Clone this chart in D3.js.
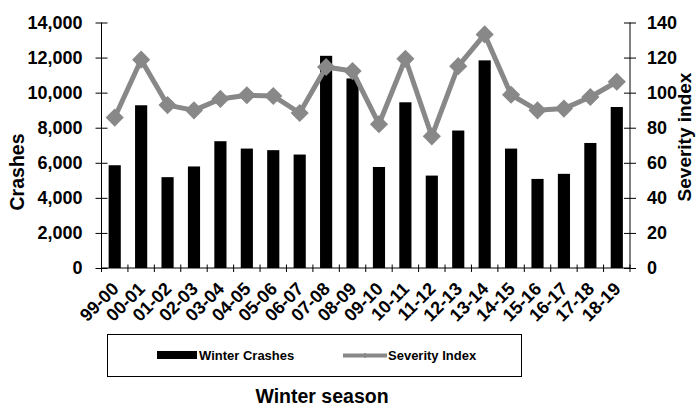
<!DOCTYPE html>
<html>
<head>
<meta charset="utf-8">
<script src="https://cdn.jsdelivr.net/npm/d3@7"></script>
<style>
  html, body { margin: 0; padding: 0; background: #fff; }
  svg { display: block; font-family: "Liberation Sans", Arial, sans-serif; font-weight: bold; }
</style>
</head>
<body>
<svg id="chart" width="696" height="409"></svg>
<script>
const seasons = ["99-00","00-01","01-02","02-03","03-04","04-05","05-06","06-07","07-08","08-09",
                 "09-10","10-11","11-12","12-13","13-14","14-15","15-16","16-17","17-18","18-19"];
const crashes = [5860, 9280, 5180, 5790, 7230, 6810, 6720, 6470, 12100, 10810,
                 5760, 9450, 5270, 7840, 11840, 6810, 5080, 5370, 7130, 9180];
const severity = [85.8, 118.8, 92.9, 89.9, 96.4, 98.5, 98.1, 88.4, 114.6, 112.3,
                  82.0, 119.3, 75.1, 115.1, 133.2, 98.8, 89.9, 90.9, 97.5, 106.2];
const leftTicks = [0, 2000, 4000, 6000, 8000, 10000, 12000, 14000];
const rightTicks = [0, 20, 40, 60, 80, 100, 120, 140];

const svg = d3.select("#chart");
const L = 101.5, R = 630, T = 22.5, B = 268;
const gray = "#888888";

const x = d3.scaleBand().domain(seasons).range([L, R]).paddingInner(0).paddingOuter(0);
const yL = d3.scaleLinear().domain([0, 14000]).range([B, T]);
const yR = d3.scaleLinear().domain([0, 140]).range([B, T]);

// bars
const bw = x.bandwidth() * 0.46;
svg.append("g").selectAll("rect").data(seasons).join("rect")
  .attr("x", (d) => x(d) + x.bandwidth() / 2 - bw / 2)
  .attr("y", (d, i) => yL(crashes[i]))
  .attr("width", bw)
  .attr("height", (d, i) => B - yL(crashes[i]))
  .attr("fill", "#000");

// line
const line = d3.line()
  .x((d, i) => x(seasons[i]) + x.bandwidth() / 2)
  .y((d) => yR(d));
svg.append("path").datum(severity)
  .attr("d", line)
  .attr("fill", "none")
  .attr("stroke", gray)
  .attr("stroke-width", 5)
  .attr("stroke-linejoin", "round");

const diamond = d3.symbol().type(d3.symbolSquare).size(165);
svg.append("g").selectAll("path").data(severity).join("path")
  .attr("d", diamond)
  .attr("transform", (d, i) => `translate(${x(seasons[i]) + x.bandwidth() / 2},${yR(d)}) rotate(45)`)
  .attr("fill", gray);

// left axis
const axL = svg.append("g").attr("transform", `translate(${L},0)`)
  .call(d3.axisLeft(yL).tickValues(leftTicks).tickFormat(d3.format(",")).tickSize(6).tickPadding(0));
axL.select(".domain").remove();
axL.append("line").attr("x1", 0).attr("x2", 0).attr("y1", T).attr("y2", B).attr("stroke", "#000");
axL.selectAll(".tick line").attr("x1", -6).attr("x2", 6).attr("stroke", "#000");
axL.selectAll(".tick text").attr("x", -19).attr("font-size", 18).attr("font-weight", "bold")
  .attr("font-family", "Liberation Sans, Arial, sans-serif").attr("fill", "#000");

// right axis
const axR = svg.append("g").attr("transform", `translate(${R},0)`)
  .call(d3.axisRight(yR).tickValues(rightTicks).tickSize(6).tickPadding(0));
axR.select(".domain").remove();
axR.append("line").attr("x1", 0).attr("x2", 0).attr("y1", T).attr("y2", B).attr("stroke", "#000");
axR.selectAll(".tick line").attr("x1", -6).attr("x2", 6).attr("stroke", "#000");
axR.selectAll(".tick text").attr("x", 17).attr("font-size", 18).attr("font-weight", "bold")
  .attr("font-family", "Liberation Sans, Arial, sans-serif").attr("fill", "#000");

// bottom axis
const axB = svg.append("g").attr("transform", `translate(0,${B})`);
axB.append("line").attr("x1", L).attr("x2", R).attr("stroke", "#000");
const bTicks = d3.range(seasons.length + 1).map((i) => L + i * x.step());
axB.selectAll("line.t").data(bTicks).join("line").attr("class", "t")
  .attr("x1", (d) => d).attr("x2", (d) => d).attr("y1", -3.5).attr("y2", 4).attr("stroke", "#000");
axB.selectAll("text").data(seasons).join("text")
  .attr("transform", (d) => `translate(${x(d) + x.bandwidth() / 2 + 5},${22}) rotate(-45)`)
  .attr("text-anchor", "end")
  .attr("font-size", 18)
  .text((d) => d);

// axis titles
svg.append("text").attr("transform", "translate(24,172) rotate(-90)")
  .attr("text-anchor", "middle").attr("font-size", 19.5).text("Crashes");
svg.append("text").attr("transform", "translate(691,137) rotate(-90)")
  .attr("text-anchor", "middle").attr("font-size", 19).text("Severity index");
svg.append("text").attr("x", 322).attr("y", 403)
  .attr("text-anchor", "middle").attr("font-size", 19.5).text("Winter season");

// legend
const lg = svg.append("g");
lg.append("rect").attr("x", 107.5).attr("y", 334.5).attr("width", 414).attr("height", 42)
  .attr("fill", "#fff").attr("stroke", "#000").attr("stroke-width", 1);
lg.append("rect").attr("x", 157).attr("y", 351).attr("width", 40).attr("height", 8).attr("fill", "#000");
lg.append("text").attr("x", 199).attr("y", 360).attr("font-size", 13).text("Winter Crashes");
lg.append("line").attr("x1", 343).attr("x2", 387).attr("y1", 355.5).attr("y2", 355.5)
  .attr("stroke", gray).attr("stroke-width", 4);
lg.append("path").attr("d", d3.symbol().type(d3.symbolSquare).size(16))
  .attr("transform", "translate(365,355.5) rotate(45)").attr("fill", gray);
lg.append("text").attr("x", 388).attr("y", 360).attr("font-size", 13).text("Severity Index");
</script>
</body>
</html>
